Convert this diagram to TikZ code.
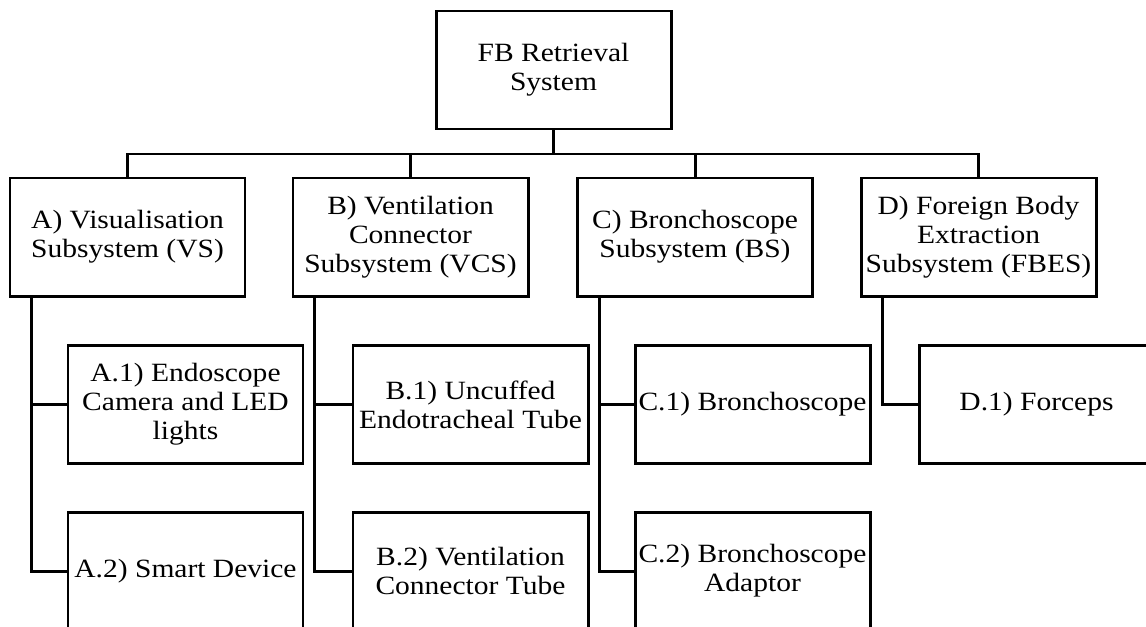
\documentclass[tikz,border=0pt]{standalone}
\usepackage{fontspec}
\setmainfont[FakeStretch=1.12]{Liberation Serif}
\usepackage{tikz}
\tikzset{%
		kasten/.style={draw,line width=1.7pt,minimum width=4.7cm,minimum height=2.36cm,inner sep=1pt,align=center,font=\fontsize{15}{16.5}\selectfont},
		linie/.style={draw,line width=1.7pt}
	}
\newcommand{\zweig}[3]{
		\coordinate (#1s) at ([xshift=.46cm]#1.south west) ;
		\draw[linie] (#1s) |- (#2.west) ;
		\draw[linie] (#1s) |- (#3.west) ;
	}

\begin{document}
\begin{tikzpicture}
      \clip (0,0) rectangle (22.92,-12.52) ;
      \node[kasten] (fb) at (11.07,-1.40) {FB Retrieval\\System} ;
      \coordinate (bus) at (0,-3.08) ;

      \node[kasten] (vs) at (2.55,-4.74) {A) Visualisation\\Subsystem (VS)} ;
      \node[kasten] (vcs) at (8.21,-4.74) {B) Ventilation\\Connector\\Subsystem (VCS)} ;
      \node[kasten] (bs) at (13.90,-4.74) {C) Bronchoscope\\Subsystem (BS)} ;
      \node[kasten] (fbes) at (19.57,-4.74) {D) Foreign Body\\Extraction\\Subsystem (FBES)} ;

      \draw[linie] (fb.south) -- (fb.south |- bus) ;
      \draw[linie] (vs.north) -- (vs.north |- bus) -- (fbes.north |- bus) -- (fbes.north) ;
      \draw[linie] (vcs.north) -- (vcs.north |- bus) ;
      \draw[linie] (bs.north) -- (bs.north |- bus) ;

      \node[kasten] (a1) at (3.71,-8.09) {A.1) Endoscope\\Camera and LED\\lights} ;
      \node[kasten] (a2) at (3.71,-11.42) {A.2) Smart Device} ;
      \node[kasten] (b1) at (9.41,-8.09) {B.1) Uncuffed\\Endotracheal Tube} ;
      \node[kasten] (b2) at (9.41,-11.42) {B.2) Ventilation\\Connector Tube} ;
      \node[kasten] (c1) at (15.05,-8.09) {C.1) Bronchoscope} ;
      \node[kasten] (c2) at (15.05,-11.42) {C.2) Bronchoscope\\Adaptor} ;
      \node[kasten] (d1) at (20.73,-8.09) {D.1) Forceps} ;

      \zweig{vs}{a1}{a2}
      \zweig{vcs}{b1}{b2}
      \zweig{bs}{c1}{c2}
      \coordinate (fbess) at ([xshift=.46cm]fbes.south west) ;
      \draw[linie] (fbess) |- (d1.west) ;
\end{tikzpicture}
\end{document}
